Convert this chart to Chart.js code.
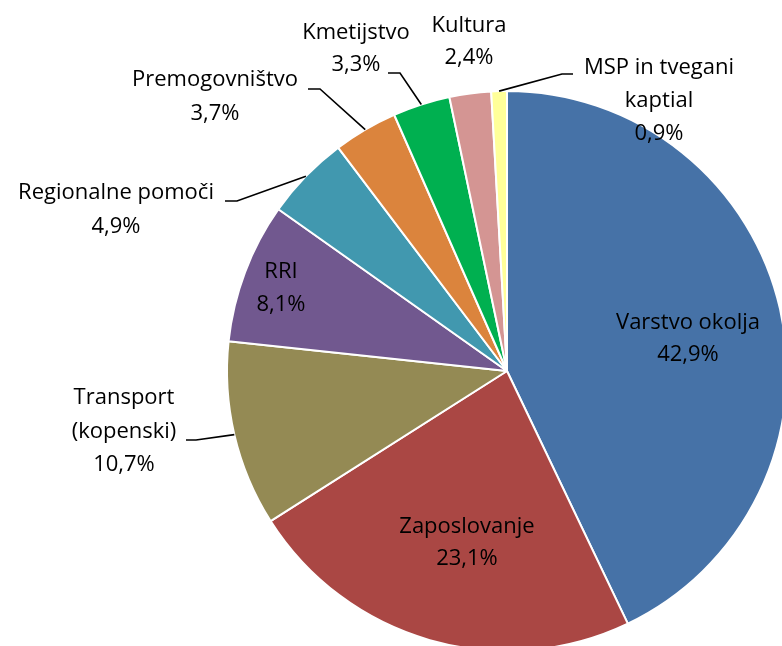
<!DOCTYPE html>
<html>
<head>
<meta charset="utf-8">
<script src="https://cdn.jsdelivr.net/npm/chart.js@4"></script>
<style>
html,body{margin:0;padding:0;width:782px;height:646px;overflow:hidden;background:#fff;}
#wrap{position:absolute;left:0;top:0;width:1000px;height:800px;}
</style>
</head>
<body>
<div id="wrap"><canvas id="c" width="1000" height="800"></canvas></div>
<script>
// ---- data ----
const categories = ["Varstvo okolja","Zaposlovanje","Transport (kopenski)","RRI","Regionalne pomoči","Premogovništvo","Kmetijstvo","Kultura","MSP in tvegani kaptial"];
const shares = [42.9, 23.1, 10.7, 8.1, 4.9, 3.7, 3.3, 2.4, 0.9];
const labelLines = [
  ["Varstvo okolja"],
  ["Zaposlovanje"],
  ["Transport","(kopenski)"],
  ["RRI"],
  ["Regionalne pomoči"],
  ["Premogovništvo"],
  ["Kmetijstvo"],
  ["Kultura"],
  ["MSP in tvegani","kaptial"]
];
const colors = ["#4672A7","#AA4744","#948A54","#71588F","#4198AF","#DB843D","#00B050","#D49593","#FFFF99"];

// ---- label layout (offsets from pie centre, px) ----
const labelPos = [
  {dx:181, dy:-48, lh:32},
  {dx:-40, dy:156, lh:32},
  {dx:-383, dy:27, lh:33.5},
  {dx:-226, dy:-99, lh:33},
  {dx:-391, dy:-178, lh:34},
  {dx:-292, dy:-291, lh:34},
  {dx:-151, dy:-338, lh:32},
  {dx:-38, dy:-345, lh:32},
  {dx:152, dy:-303, lh:33}
];
// leader: [start, elbow] offsets from centre; null = none
const leaders = [
  null, null,
  [[-321,69],[-311,69]],
  null,
  [[-282,-170],[-270,-170]],
  [[-199,-282],[-187,-282]],
  [[-119,-298],[-107,-298]],
  null,
  [[66,-297],[55,-297]]
];

const fmt = v => v.toFixed(1).replace('.', ',') + '%';

const labelPlugin = {
  id: 'pieLabels',
  afterDatasetsDraw(chart) {
    const ctx = chart.ctx;
    const arcs = chart.getDatasetMeta(0).data;
    ctx.save();
    ctx.font = '22px "Open Sans"';
    ctx.fillStyle = '#000';
    ctx.textAlign = 'center';
    ctx.textBaseline = 'middle';
    arcs.forEach((arc, i) => {
      const cx = arc.x, cy = arc.y;
      const p = labelPos[i];
      const lines = labelLines[i].concat([fmt(shares[i])]);
      lines.forEach((t, k) => ctx.fillText(t, cx + p.dx, cy + p.dy + k * p.lh));
      const L = leaders[i];
      if (L) {
        const mid = (arc.startAngle + arc.endAngle) / 2;
        const ex = cx + Math.cos(mid) * arc.outerRadius;
        const ey = cy + Math.sin(mid) * arc.outerRadius;
        ctx.beginPath();
        ctx.strokeStyle = '#000';
        ctx.lineWidth = 1.6;
        ctx.moveTo(cx + L[0][0], cy + L[0][1]);
        ctx.lineTo(cx + L[1][0], cy + L[1][1]);
        ctx.lineTo(ex, ey);
        ctx.stroke();
      }
    });
    ctx.restore();
  }
};

new Chart(document.getElementById('c'), {
  type: 'pie',
  data: {
    labels: categories,
    datasets: [{
      data: shares,
      backgroundColor: colors,
      borderColor: '#fff',
      borderWidth: 2,
      hoverBorderWidth: 2,
      hoverOffset: 0
    }]
  },
  options: {
    responsive: false,
    animation: false,
    events: [],
    radius: 280,
    layout: {padding: {left: 207, right: 193, top: 71, bottom: 129}},
    plugins: {legend: {display: false}, tooltip: {enabled: false}}
  },
  plugins: [labelPlugin]
});
</script>
</body>
</html>
